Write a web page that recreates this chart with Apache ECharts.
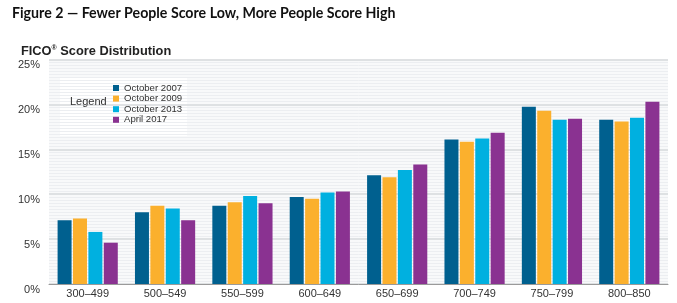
<!DOCTYPE html>
<html><head><meta charset="utf-8">
<script src="https://cdn.jsdelivr.net/npm/echarts@6/dist/echarts.min.js"></script>
<style>html,body{margin:0;padding:0;background:#fff}#c{width:677px;height:303px}</style>
</head><body><div id="c"></div>
<script>
const categories = ['300–499','500–549','550–599','600–649','650–699','700–749','750–799','800–850'];
const seriesNames = ['October 2007','October 2009','October 2013','April 2017'];
const oct2007 = [7.1, 8.0, 8.7, 9.7, 12.1, 16.1, 19.75, 18.3];
const oct2009 = [7.3, 8.7, 9.1, 9.5, 11.9, 15.85, 19.3, 18.1];
const oct2013 = [5.8, 8.4, 9.8, 10.2, 12.7, 16.2, 18.3, 18.5];
const apr2017 = [4.6, 7.1, 9.0, 10.3, 13.3, 16.85, 18.4, 20.3];
const yTicks = [0, 5, 10, 15, 20, 25];
const colors = ['#00608f', '#fbb02d', '#00b0e0', '#8a3291'];
const values = [oct2007, oct2009, oct2013, apr2017];

const chart = echarts.init(document.getElementById('c'), null, {renderer: 'canvas'});
chart.setOption({
  animation: false,
  title: [
    {text: 'Figure 2 — Fewer People Score Low, More People Score High', left: 7, top: 1,
     textStyle: {fontFamily: 'Lato', fontWeight: 'bold', fontSize: 14.2, color: '#111'}},
    {text: 'FICO{r|®} Score Distribution', left: 16, top: 40,
     textStyle: {fontFamily: 'Liberation Sans', fontWeight: 'bold', fontSize: 12.8, color: '#222',
       rich: {r: {fontFamily: 'Liberation Sans', fontWeight: 'bold', fontSize: 7, color: '#222', verticalAlign: 'top', padding: [0, 0, 4, 0]}}}}
  ],
  grid: {left: 49, right: 9, top: 59.5, bottom: 19, show: true, backgroundColor: '#f8f9fa', borderWidth: 0},
  legend: {
    orient: 'vertical', left: 108, top: 78, itemWidth: 6, itemHeight: 6, itemGap: 0.6,
    icon: 'rect', data: seriesNames,
    textStyle: {fontFamily: 'Liberation Sans', fontSize: 9.6, color: '#333', lineHeight: 10}
  },
  graphic: [
    {type: 'rect', z: 0, zlevel: 0, left: 60, top: 78, shape: {width: 127, height: 58},
     style: {fill: 'rgba(255,255,255,0.88)'}},
    {type: 'text', z: 1, left: 70, top: 96,
     style: {text: 'Legend', font: '11px "Liberation Sans"', fill: '#333'}}
  ],
  xAxis: {
    type: 'category', data: categories,
    axisLine: {lineStyle: {color: '#9a9a9a', width: 1}},
    axisTick: {show: false},
    axisLabel: {fontFamily: 'Liberation Sans', fontSize: 11, color: '#333', margin: 4}
  },
  yAxis: {
    type: 'value', min: 0, max: 25, interval: 5,
    axisLine: {show: false}, axisTick: {show: false},
    axisLabel: {fontFamily: 'Liberation Sans', fontSize: 11, color: '#333', margin: 9,
      verticalAlign: 'top',
      formatter: v => yTicks.includes(v) ? v + '%' : ''},
    splitLine: {lineStyle: {color: '#d6d8db', width: 1.5}},
    minorTick: {show: false, splitNumber: 15},
    minorSplitLine: {show: true, lineStyle: {color: '#eceef1', width: 1}}
  },
  series: values.map((d, i) => ({
    name: seriesNames[i], type: 'bar', data: d, barWidth: 14, barGap: '10%',
    itemStyle: {color: colors[i]}, z: 2
  }))
});
</script></body></html>
